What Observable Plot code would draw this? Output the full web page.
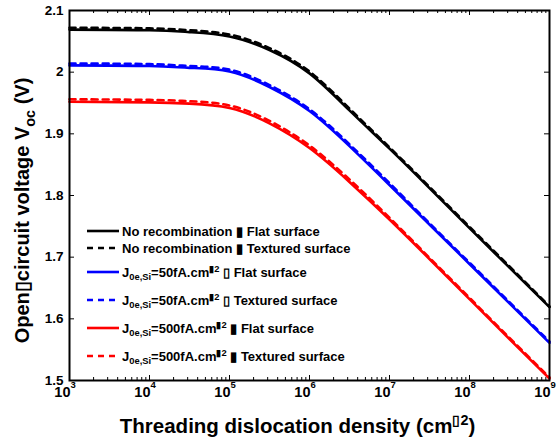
<!DOCTYPE html>
<html><head><meta charset="utf-8">
<script src="https://cdn.jsdelivr.net/npm/d3@7"></script>
<script src="https://cdn.jsdelivr.net/npm/@observablehq/plot@0.6"></script>
<style>
body{margin:0;background:#fff}
svg{font-family:"Liberation Sans",Arial,Helvetica,sans-serif;font-weight:bold}
</style>
</head><body><div id="chart"></div>
<script>
// ---- data ----
const density = [1e3, 1e4, 3.16e4, 1e5, 3.16e5, 1e6, 3.16e6, 1e7, 3.16e7, 1e8, 3.16e8, 1e9];
const vocNoRecFlat     = [2.069,2.068,2.065,2.058,2.036,1.998,1.938,1.876,1.812,1.747,1.683,1.619];
const vocNoRecTextured = [2.072,2.071,2.068,2.061,2.039,2.001,1.941,1.878,1.814,1.749,1.685,1.620];
const voc50Flat        = [2.011,2.010,2.007,2.001,1.976,1.937,1.880,1.817,1.753,1.689,1.625,1.561];
const voc50Textured    = [2.014,2.013,2.010,2.004,1.979,1.940,1.883,1.820,1.755,1.691,1.627,1.563];
const voc500Flat       = [1.952,1.951,1.949,1.942,1.917,1.877,1.822,1.761,1.697,1.632,1.567,1.503];
const voc500Textured   = [1.956,1.955,1.953,1.946,1.921,1.881,1.826,1.764,1.699,1.634,1.569,1.505];

const seriesLabels = [
  "No recombination \u25AE Flat surface",
  "No recombination \u25AE Textured surface",
  "J_{0e,Si}=50fA.cm^{\u25AE2} \u25AF Flat surface",
  "J_{0e,Si}=50fA.cm^{\u25AE2} \u25AF Textured surface",
  "J_{0e,Si}=500fA.cm^{\u25AE2} \u25AE Flat surface",
  "J_{0e,Si}=500fA.cm^{\u25AE2} \u25AE Textured surface"
];
const seriesValues = [vocNoRecFlat, vocNoRecTextured, voc50Flat, voc50Textured, voc500Flat, voc500Textured];
const seriesColors = ["#000000","#000000","#0000ff","#0000ff","#ff0000","#ff0000"];
const seriesDashed = [false,true,false,true,false,true];

const yTicks = [1.5,1.6,1.7,1.8,1.9,2.0,2.1];
const yTickLabels = ["1.5","1.6","1.7","1.8","1.9","2","2.1"];
const xMajorTicks = [1e3,1e4,1e5,1e6,1e7,1e8,1e9];
const xTickExponents = ["3","4","5","6","7","8","9"];
const xMinorTicks = [];
for (let e = 3; e < 9; e++) for (let m = 2; m <= 9; m++) xMinorTicks.push(m * 10 ** e);

const xTitle = "Threading dislocation density (cm^{\u25AF2})";
const yTitle = "Open\u25AFcircuit voltage V_{oc} (V)";

// ---- table ----
const rows = [];
seriesValues.forEach((vals, s) => vals.forEach((v, i) => rows.push({s, d: density[i], v})));

const lineMarks = seriesValues.map((_, s) => Plot.line(rows.filter(r => r.s === s), {
  x: "d", y: "v", stroke: seriesColors[s], strokeWidth: 2.6,
  strokeDasharray: seriesDashed[s] ? "6,5" : null, curve: "natural"
}));

const frameW = 556 - 69 - 7, frameH = 441 - 10 - 61;
const tickStyle = {stroke: "black", strokeWidth: 1};

const chart = Plot.plot({
  width: 556, height: 441,
  marginLeft: 69, marginRight: 7, marginTop: 10, marginBottom: 61,
  style: {fontFamily: '"Liberation Sans", Arial, sans-serif', fontWeight: "bold", background: "white", color: "black"},
  x: {type: "log", domain: [1e3, 1e9], axis: null},
  y: {domain: [1.5, 2.1], axis: null},
  marks: [
    // inward ticks on all four sides
    Plot.ruleX(xMajorTicks, {x: d => d, insetTop: frameH - 5, ...tickStyle}),
    Plot.ruleX(xMajorTicks, {x: d => d, insetBottom: frameH - 5, ...tickStyle}),
    Plot.ruleX(xMinorTicks, {x: d => d, insetTop: frameH - 3, ...tickStyle}),
    Plot.ruleX(xMinorTicks, {x: d => d, insetBottom: frameH - 3, ...tickStyle}),
    Plot.ruleY(yTicks, {y: d => d, insetRight: frameW - 5, ...tickStyle}),
    Plot.ruleY(yTicks, {y: d => d, insetLeft: frameW - 5, ...tickStyle}),
    // tick labels
    Plot.axisY({anchor: "left", ticks: yTicks, tickSize: 0, tickPadding: 6, fontSize: 13.5,
      tickFormat: (d) => yTickLabels[yTicks.findIndex(t => Math.abs(t - d) < 1e-9)], label: null}),
    Plot.axisX({anchor: "bottom", ticks: xMajorTicks, tickSize: 0, tickPadding: 6, fontSize: 14.5,
      textAnchor: "end", dx: 1, tickFormat: () => "10", label: null}),
    Plot.axisX({anchor: "bottom", ticks: xMajorTicks, tickSize: 0, tickPadding: 1, fontSize: 9.5,
      textAnchor: "start", dx: 1, tickFormat: (d) => xTickExponents[xMajorTicks.indexOf(d)], label: null}),
    ...lineMarks,
    Plot.frame({stroke: "black", strokeWidth: 2}),
    Plot.text([xTitle], {frameAnchor: "bottom", dy: 52, dx: -12, lineAnchor: "bottom", textAnchor: "middle", fontSize: 20.5, fontWeight: "bold"}),
    Plot.text([yTitle], {frameAnchor: "left", dx: -47, dy: 15, rotate: -90, lineAnchor: "middle", textAnchor: "middle", fontSize: 20, fontWeight: "bold"})
  ]
});

// rich text (sub/superscripts)
function richText(el, str, base) {
  const parts = str.split(/(_\{[^}]*\}|\^\{[^}]*\})/).filter(p => p.length);
  const t = d3.select(el);
  t.text(null);
  let shift = 0;
  parts.forEach(p => {
    let target = 0, txt = p, size = null;
    if (p.startsWith("_{")) { target = 0.3 * base; txt = p.slice(2, -1); size = 0.72 * base; }
    else if (p.startsWith("^{")) { target = -0.38 * base; txt = p.slice(2, -1); size = 0.72 * base; }
    const ts = t.append("tspan").attr("dy", target - shift).text(txt);
    if (size) ts.attr("font-size", size);
    shift = target;
  });
}
d3.select(chart).selectAll("text").each(function() {
  const s = this.textContent;
  if (s.includes("_{") || s.includes("^{")) richText(this, s, 20);
});

// legend
const svg = d3.select(chart);
const legendRowsY = [231, 248, 272, 300, 328, 356];
const lg = svg.append("g").attr("font-size", 13).attr("font-weight", "bold").attr("text-anchor", "start");
seriesLabels.forEach((lab, i) => {
  const y = legendRowsY[i];
  lg.append("line").attr("x1", 87).attr("x2", 119).attr("y1", y).attr("y2", y)
    .attr("stroke", seriesColors[i]).attr("stroke-width", 2.6)
    .attr("stroke-dasharray", seriesDashed[i] ? "6,5" : null);
  const t = lg.append("text").attr("x", 122).attr("y", y + 4.5).attr("fill", "black");
  richText(t.node(), lab, 13);
});

document.getElementById("chart").appendChild(chart);
</script>
</body></html>
